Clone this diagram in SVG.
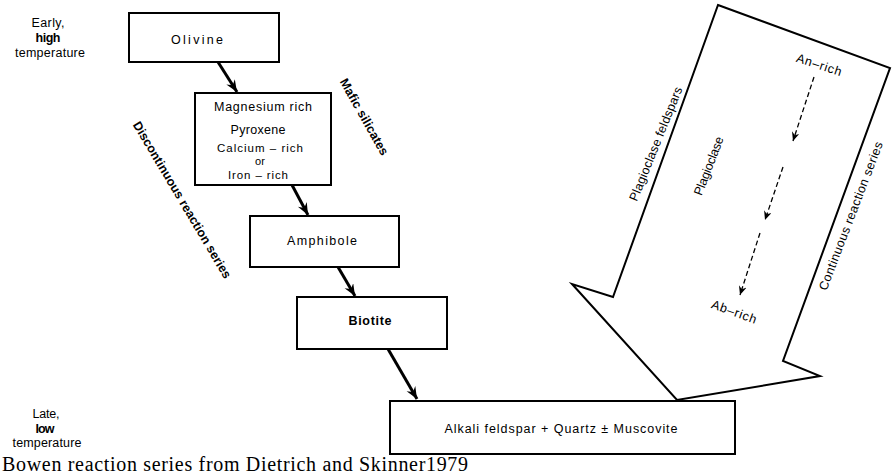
<svg xmlns="http://www.w3.org/2000/svg" width="893" height="476" viewBox="0 0 893 476">
<defs>
<style>
.box{fill:#fff;stroke:#000;stroke-width:2}
.t{font-family:"Liberation Sans",Arial,sans-serif;font-size:12.5px;fill:#000;text-anchor:middle}
.s{font-size:11.5px}
.b{font-weight:bold}
.conn{stroke:#000;stroke-width:3;fill:none}
.dash{stroke:#000;stroke-width:1.3;stroke-dasharray:5 3;fill:none}
.cap{font-family:"Liberation Serif","Times New Roman",serif;font-size:20px;fill:#000}
</style>
<marker id="ah" markerUnits="userSpaceOnUse" markerWidth="14" markerHeight="12" refX="12" refY="5" orient="auto">
<path d="M0,0 L12,5 L0,10 L4,5 Z" fill="#000"/>
</marker>
<marker id="ahs" markerUnits="userSpaceOnUse" markerWidth="12" markerHeight="10" refX="9" refY="4" orient="auto">
<path d="M0,0 L9,4 L0,8 L3,4 Z" fill="#000"/>
</marker>
</defs>
<rect width="893" height="476" fill="#fff"/>

<g id="side-labels">
<text class="t" x="48" y="27" textLength="33">Early,</text>
<text class="t b" x="48" y="42" textLength="25">high</text>
<text class="t" x="50" y="57" textLength="70">temperature</text>
<text class="t" x="46" y="418" textLength="27">Late,</text>
<text class="t b" x="45" y="433" textLength="19">low</text>
<text class="t" x="47" y="447" textLength="69">temperature</text>
</g>

<g id="olivine">
<rect class="box" x="129" y="13" width="150" height="49"/>
<text class="t" x="197" y="44" textLength="52">Olivine</text>
</g>

<g id="pyroxene">
<rect class="box" x="195" y="93" width="136" height="92"/>
<text class="t" x="263" y="111" textLength="98">Magnesium rich</text>
<text class="t" x="258" y="134" textLength="55">Pyroxene</text>
<text class="t s" x="260" y="152" textLength="86">Calcium – rich</text>
<text class="t" x="260" y="165" style="font-size:11px">or</text>
<text class="t s" x="258" y="179" textLength="60">Iron – rich</text>
</g>

<g id="amphibole">
<rect class="box" x="250" y="216" width="149" height="51"/>
<text class="t" x="322" y="245" textLength="70">Amphibole</text>
</g>

<g id="biotite">
<rect class="box" x="297" y="297" width="150" height="52"/>
<text class="t b" x="370" y="325" textLength="43">Biotite</text>
</g>

<g id="alkali">
<rect class="box" x="390" y="401" width="345" height="53"/>
<text class="t" x="561" y="433" textLength="233">Alkali feldspar + Quartz ± Muscovite</text>
</g>

<g id="series-labels">
<text class="t b" transform="translate(364,117) rotate(60.6)" y="4" textLength="86">Mafic silicates</text>
<text class="t b" transform="translate(182,200) rotate(59.3)" y="4" textLength="180">Discontinuous reaction series</text>
</g>

<g id="plagioclase-arrow">
<polygon points="718,5 890,68 783,361 820,376 677,400 572,284 613,297" fill="#fff" stroke="#000" stroke-width="2" stroke-linejoin="miter"/>
<text class="t" transform="translate(656,144) rotate(-68)" y="4" textLength="122">Plagioclase feldspars</text>
<text class="t" transform="translate(709,166) rotate(-69)" y="4" textLength="62">Plagioclase</text>
<text class="t" transform="translate(851,216) rotate(-69)" y="4" textLength="158">Continuous reaction series</text>
<text class="t" transform="translate(819,65) rotate(18)" y="4" textLength="47">An–rich</text>
<text class="t" transform="translate(734,312) rotate(20)" y="4" textLength="47">Ab–rich</text>
</g>

<g id="connectors">
<line class="conn" x1="218" y1="62" x2="237" y2="92" marker-end="url(#ah)"/>
<line class="conn" x1="292" y1="185" x2="308" y2="215" marker-end="url(#ah)"/>
<line class="conn" x1="338" y1="267" x2="355" y2="296" marker-end="url(#ah)"/>
<line class="conn" x1="388" y1="349" x2="417" y2="399" marker-end="url(#ah)"/>
<line class="dash" x1="814" y1="77" x2="793" y2="141" marker-end="url(#ahs)"/>
<line class="dash" x1="783" y1="167" x2="765" y2="220" marker-end="url(#ahs)"/>
<line class="dash" x1="760" y1="233" x2="740" y2="295" marker-end="url(#ahs)"/>
</g>

<text class="cap" x="2" y="471" textLength="466">Bowen reaction series from Dietrich and Skinner1979</text>
</svg>
